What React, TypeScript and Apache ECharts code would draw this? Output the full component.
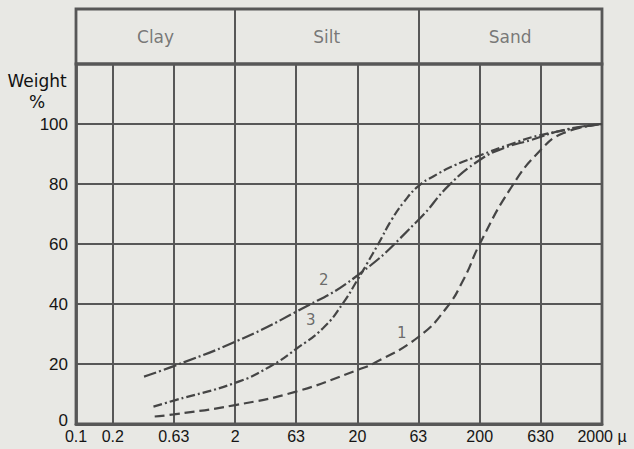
import React, { useEffect, useRef } from "react";
import * as echarts from "echarts";

// Particle size axis (µm), logarithmic
const xTicks = [0.1, 0.2, 0.63, 2, 6.3, 20, 63, 200, 630, 2000];
const xTickLabels = ["0.1", "0.2", "0.63", "2", "63", "20", "63", "200", "630", "2000 µ"];
const yTicks = [0, 20, 40, 60, 80, 100];

// Fraction header
const fractions = ["Clay", "Silt", "Sand"];
const fractionBounds = [0.1, 2, 63, 2000];

// Curve 1 (dashed)
const curve1Size = [0.44, 0.63, 2, 6.3, 20, 28, 63, 106, 149, 200, 364, 630, 970, 2000];
const curve1Pct = [2.5, 3.2, 6.3, 10.8, 18, 20.5, 29, 38.5, 48.5, 60, 79, 91.3, 97, 100];

// Curve 2 (dash-dot)
const curve2Size = [0.36, 0.63, 2, 6.3, 20, 63, 113, 200, 317, 530, 970, 2000];
const curve2Pct = [15.8, 19.3, 27.4, 37.4, 49.5, 68, 79.7, 88, 92, 94.7, 98, 100];

// Curve 3 (dash-dot, S-shaped)
const curve3Size = [0.43, 0.63, 2, 3.8, 6.3, 10.5, 15.1, 20, 24, 29.6, 38, 48, 63, 84, 126, 200, 344, 630, 2000];
const curve3Pct = [5.8, 7.8, 13.7, 19, 25, 32, 40, 48, 53.5, 60, 68, 74, 79.3, 82.6, 86.3, 89.5, 93, 96.3, 100];

// Curve number labels
const curveLabelNames = ["1", "2", "3"];
const curveLabelSize = [46, 10.6, 8.3];
const curveLabelPct = [30.3, 48, 34.7];

const lg = (v: number) => Math.log10(v);

export default function App() {
  const ref = useRef<HTMLDivElement>(null);
  useEffect(() => {
    const chart = echarts.init(ref.current!, null, { renderer: "svg" });
    const xMin = lg(xTicks[0]);
    const xMax = lg(xTicks[xTicks.length - 1]);
    const xTickVals = xTicks.map(lg);
    const fmtX = (v: number) => {
      const i = xTickVals.findIndex((t) => Math.abs(t - v) < 1e-6);
      return i >= 0 ? xTickLabels[i] : "";
    };
    const fmtY = (v: number) => (v === 0 ? "{z|0}" : String(v));
    const toPts = (s: number[], p: number[]) => s.map((x, i) => [lg(x), p[i]]);
    const ink = "#454545";
    const gridInk = "#575757";
    const headerData = fractions.map((name, i) => ({
      name,
      value: [(lg(fractionBounds[i]) + lg(fractionBounds[i + 1])) / 2, 0.5],
    }));
    const curveLabelData = curveLabelNames.map((name, i) => ({
      name,
      value: [lg(curveLabelSize[i]), curveLabelPct[i]],
    }));
    const lineSeries = (data: number[][], dash: number[]) => ({
      type: "line",
      xAxisIndex: 0,
      yAxisIndex: 0,
      data,
      smooth: 0.5,
      showSymbol: false,
      symbol: "none",
      silent: true,
      z: 5,
      lineStyle: { color: ink, width: 2.2, type: dash },
    });
    chart.setOption({
      animation: false,
      backgroundColor: "#e8e8e4",
      grid: [
        {
          left: 76, right: 32, top: 64, bottom: 25, show: true,
          borderColor: gridInk, borderWidth: 2.8, backgroundColor: "transparent",
        },
        {
          left: 76, right: 32, top: 9, height: 55, show: true,
          borderColor: gridInk, borderWidth: 2.8, backgroundColor: "transparent",
        },
      ],
      xAxis: [
        {
          type: "value", gridIndex: 0, min: xMin, max: xMax,
          axisLine: { show: true, onZero: false, lineStyle: { color: gridInk, width: 2.8 } },
          axisTick: { show: false, customValues: xTickVals },
          axisLabel: {
            customValues: xTickVals, formatter: fmtX, margin: 4,
            fontSize: 16, fontFamily: "Liberation Sans", color: "#151515",
          },
          splitLine: { show: true, lineStyle: { color: gridInk, width: 2 } },
        },
        {
          type: "value", gridIndex: 1, min: xMin, max: xMax,
          axisLine: { show: false, onZero: false },
          axisTick: { show: false, customValues: fractionBounds.slice(1, -1).map(lg) },
          axisLabel: { show: false },
          splitLine: { show: true, lineStyle: { color: gridInk, width: 2 } },
        },
      ],
      yAxis: [
        {
          type: "value", gridIndex: 0, min: 0, max: 120,
          axisLine: { show: true, onZero: false, lineStyle: { color: gridInk, width: 2.8 } },
          axisTick: { show: false, customValues: yTicks },
          axisLabel: {
            customValues: yTicks, margin: 8, formatter: fmtY,
            fontSize: 17, fontFamily: "Liberation Sans", color: "#151515",
            rich: {
              z: {
                fontSize: 17, fontFamily: "Liberation Sans", color: "#151515",
                padding: [0, 0, 8, 0],
              },
            },
          },
          splitLine: { show: true, lineStyle: { color: gridInk, width: 2 } },
          name: "Weight\n%",
          nameLocation: "end",
          nameGap: -27,
          nameTextStyle: {
            fontFamily: "DejaVu Sans", fontSize: 17, color: "#111",
            align: "center", verticalAlign: "middle", lineHeight: 21,
            padding: [0, 78, 0, 0],
          },
        },
        { type: "value", gridIndex: 1, min: 0, max: 1, show: false },
      ],
      series: [
        lineSeries(toPts(curve1Size, curve1Pct), [10, 5]),
        lineSeries(toPts(curve2Size, curve2Pct), [13, 3, 2, 3]),
        lineSeries(toPts(curve3Size, curve3Pct), [9, 3, 2, 3]),
        {
          type: "scatter", xAxisIndex: 1, yAxisIndex: 1, data: headerData,
          symbolSize: 1, itemStyle: { color: "transparent" }, silent: true,
          label: {
            show: true, position: "inside", formatter: "{b}",
            fontFamily: "DejaVu Sans", fontSize: 17, color: "#5a5a5a",
          },
        },
        {
          type: "scatter", xAxisIndex: 0, yAxisIndex: 0, data: curveLabelData,
          symbolSize: 1, itemStyle: { color: "transparent" }, silent: true,
          label: {
            show: true, position: "inside", formatter: "{b}",
            fontFamily: "DejaVu Sans", fontSize: 15, color: "#4a4a4a",
          },
        },
      ],
    });
    return () => chart.dispose();
  }, []);
  return (
    <div
      ref={ref}
      style={{ position: "absolute", left: 0, top: 0, width: 634, height: 449 }}
    />
  );
}
